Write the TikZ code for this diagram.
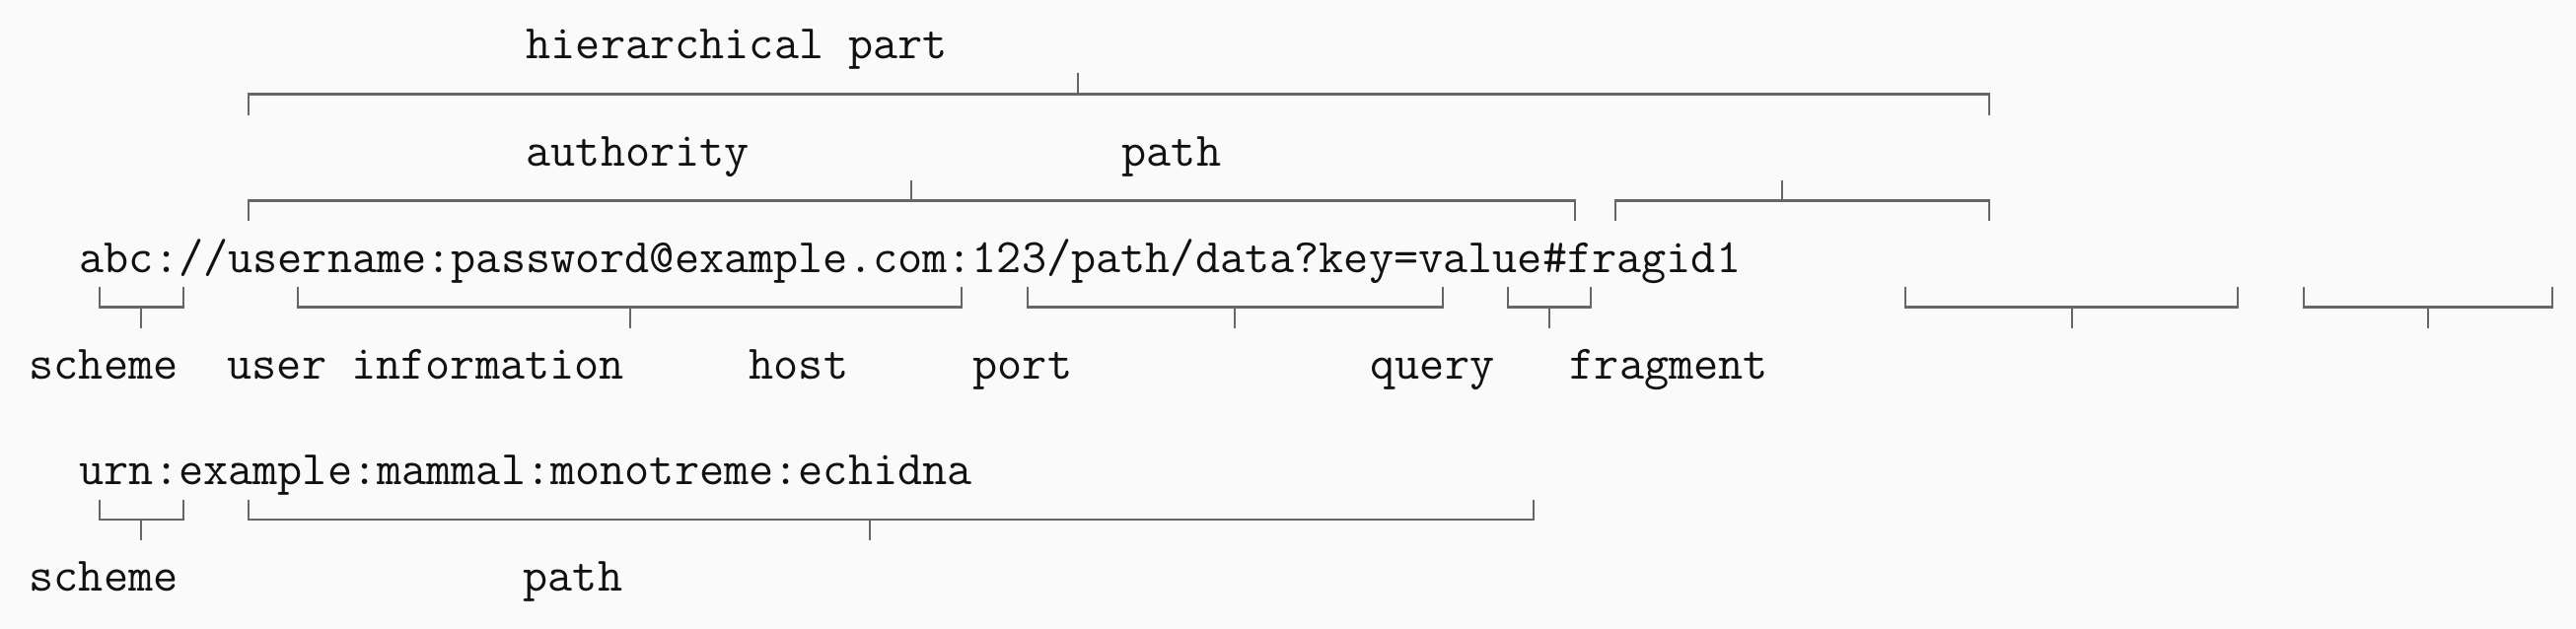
\documentclass[tikz,border=0pt]{standalone}
\usepackage{tikz}
\definecolor{pagebg}{HTML}{FAFAFA}
\definecolor{inkgray}{HTML}{111111}
\definecolor{rulegray}{HTML}{666666}
\tikzset{
  uri/.style={anchor=base west, inner sep=0pt, text=inkgray,
    font=\fontsize{13.89}{16}\selectfont\ttfamily},
  brk/.style={rulegray, line width=0.6pt},
}

\begin{document}
\begin{tikzpicture}
  \fill[pagebg] (0,0) rectangle (26.12,6.38);

  % ---------- First example: full URI ----------
  \node[uri] (hier) at (5.33,5.78) {hierarchical part};
  \node[uri] (auth) at (5.33,4.69) {authority};
  \node[uri] (path) at (11.37,4.69) {path};
  \node[uri] (full) at (0.80,3.61)
    {abc://username:password@example.com:123/path/data?key=value\#fragid1};

  % brackets above the string (ends down, tick up)
  \draw[brk] (2.52,5.21) -- (2.52,5.425) -- (20.17,5.425) -- (20.17,5.21)
    (10.93,5.425) -- (10.93,5.64);
  \foreach \l/\r/\m in {2.52/15.97/9.24, 16.38/20.17/18.07} {
    \draw[brk] (\l,4.14) -- (\l,4.345) -- (\r,4.345) -- (\r,4.14)
      (\m,4.345) -- (\m,4.55);
  }

  % brackets below the string (ends up, tick down)
  \foreach \l/\r/\m in {1.01/1.86/1.43, 3.02/9.75/6.39, 10.42/14.63/12.52,
                        15.29/16.13/15.71, 19.32/22.69/21.01, 23.36/25.88/24.62} {
    \draw[brk] (\l,3.47) -- (\l,3.265) -- (\r,3.265) -- (\r,3.47)
      (\m,3.265) -- (\m,3.05);
  }

  \node[uri] (scheme) at (0.29,2.53) {scheme};
  \node[uri] (userinfo) at (2.30,2.53) {user information};
  \node[uri] (host) at (7.59,2.53) {host};
  \node[uri] (port) at (9.86,2.53) {port};
  \node[uri] (query) at (13.89,2.53) {query};
  \node[uri] (fragment) at (15.91,2.53) {fragment};

  % ---------- Second example: URN ----------
  \node[uri] (urn) at (0.80,1.46) {urn:example:mammal:monotreme:echidna};
  \foreach \l/\r/\m in {1.01/1.86/1.43, 2.52/15.55/8.82} {
    \draw[brk] (\l,1.31) -- (\l,1.11) -- (\r,1.11) -- (\r,1.31)
      (\m,1.11) -- (\m,0.90);
  }
  \node[uri] (urnscheme) at (0.29,0.38) {scheme};
  \node[uri] (urnpath) at (5.30,0.38) {path};
\end{tikzpicture}
\end{document}
